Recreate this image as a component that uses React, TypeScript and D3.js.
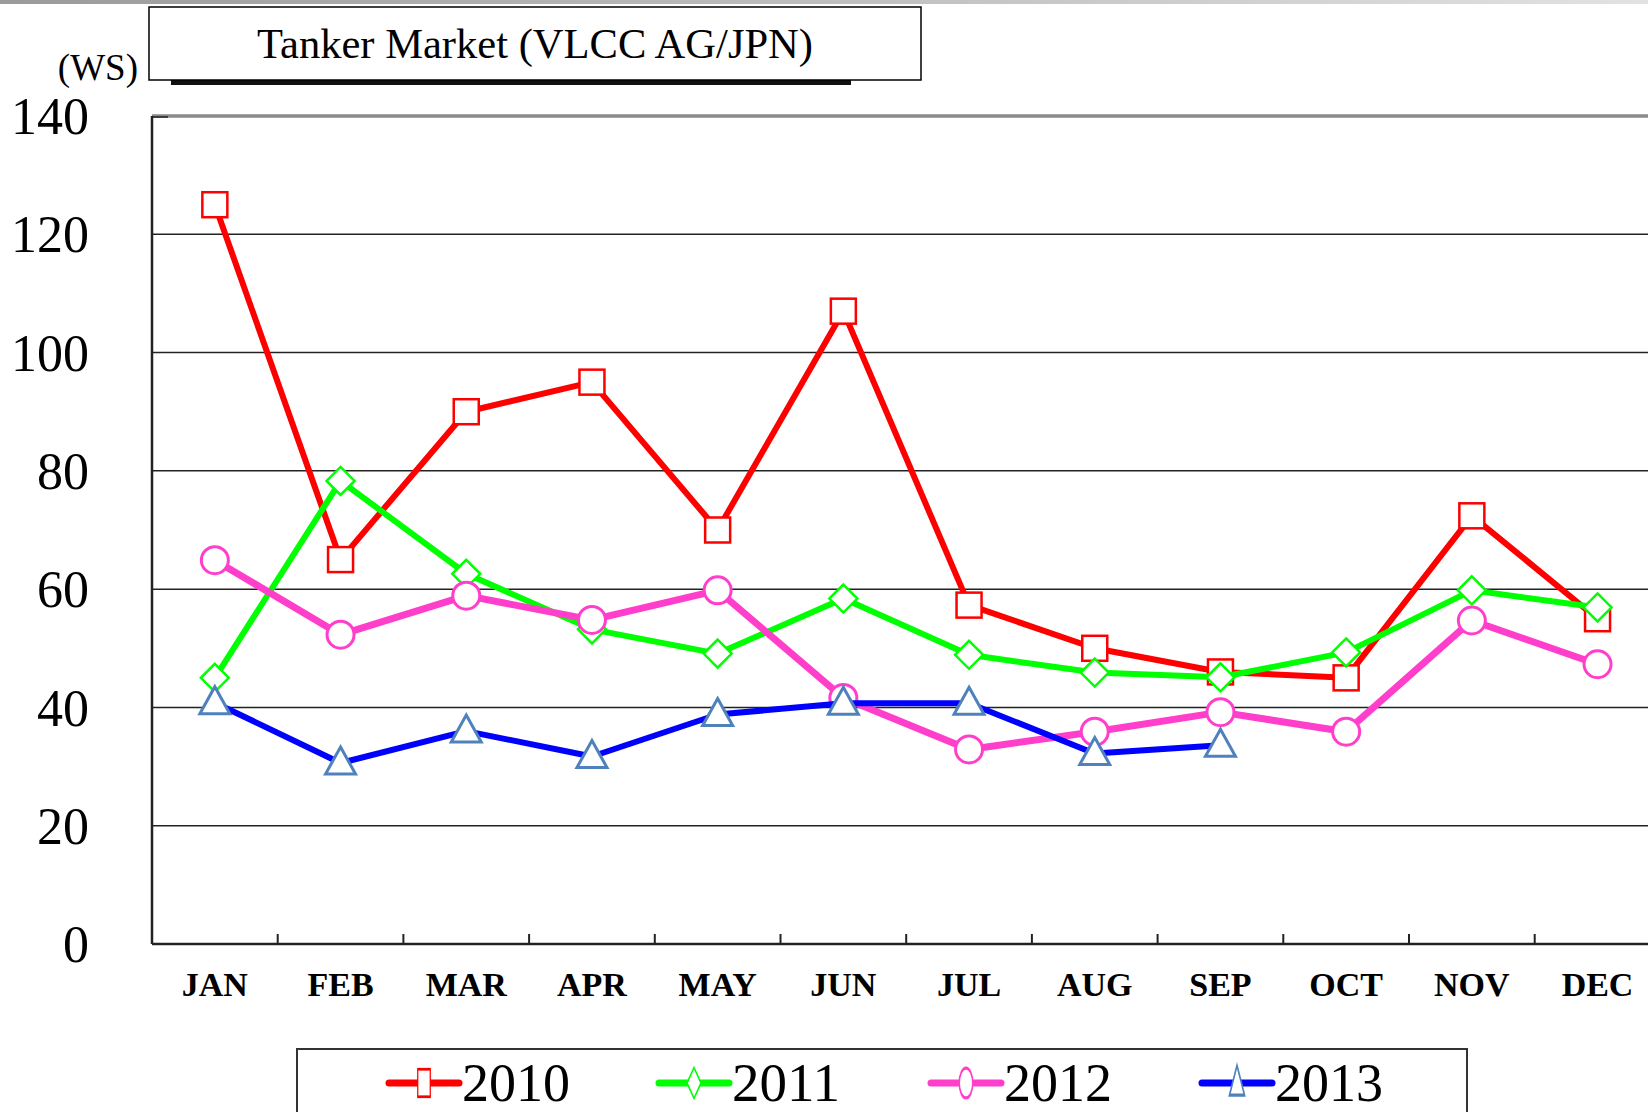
import React from 'react';
import * as d3 from 'd3';

const months = ['JAN', 'FEB', 'MAR', 'APR', 'MAY', 'JUN', 'JUL', 'AUG', 'SEP', 'OCT', 'NOV', 'DEC'];
const yTicks = [0, 20, 40, 60, 80, 100, 120, 140];

const values2010 = [125, 65, 90, 95, 70, 107, 57.3, 50, 46, 45, 72.4, 55];
const values2011 = [45, 78.3, 62.6, 53.2, 49.1, 58.4, 48.9, 45.9, 45.1, 49.3, 59.8, 56.9];
const values2012 = [64.9, 52.3, 58.9, 54.8, 59.8, 41.6, 32.9, 35.9, 39.2, 35.9, 54.7, 47.3];
const values2013 = [40.8, 30.6, 36, 31.7, 38.8, 40.7, 40.7, 32.2, 33.6];

const series = [
  {name: '2010', values: values2010, color: '#ff0000', marker: 'square', mstroke: '#ff0000', width: 6},
  {name: '2011', values: values2011, color: '#00ff00', marker: 'diamond', mstroke: '#00ff00', width: 6},
  {name: '2012', values: values2012, color: '#ff3fcc', marker: 'circle', mstroke: '#ff3fcc', width: 7},
  {name: '2013', values: values2013, color: '#0000ff', marker: 'triangle', mstroke: '#4f81bd', width: 6},
];

const W = 1648;
const H = 1112;

function Marker({kind, x, y, stroke}: {kind: string, x: number, y: number, stroke: string}) {
  const common = {fill: 'white', stroke: stroke, strokeWidth: 2.5};
  if (kind === 'square') return <rect x={x - 12.5} y={y - 12.5} width={25} height={25} {...common} />;
  if (kind === 'diamond') return <path d={`M${x},${y - 14}L${x + 14},${y}L${x},${y + 14}L${x - 14},${y}Z`} {...common} />;
  if (kind === 'circle') return <circle cx={x} cy={y} r={13.5} {...common} strokeWidth={3} />;
  return <path d={`M${x},${y - 16}L${x + 15},${y + 11}L${x - 15},${y + 11}Z`} {...common} strokeWidth={3} />;
}

export default function App() {
  const left = 152;
  const step = 125.7;
  const x = d3.scaleBand().domain(months).range([left, left + step * 12]);
  const y = d3.scaleLinear().domain([0, 140]).range([944, 116]);
  const cx = (i: number) => (x(months[i]) as number) + x.bandwidth() / 2;

  const line = d3.line<number>().x((d, i) => cx(i)).y(d => y(d));

  const legendX = [389, 659, 931, 1202];

  return (
    <svg width={W} height={H} style={{position: 'absolute', left: 0, top: 0, background: 'white'}}
      fontFamily="'Liberation Serif', 'Times New Roman', serif">
      <defs>
        <linearGradient id="topbar" x1="0" x2="1" y1="0" y2="0">
          <stop offset="0" stopColor="#9a9a9a" />
          <stop offset="1" stopColor="#e2e2e2" />
        </linearGradient>
      </defs>
      <rect x={0} y={0} width={W} height={4} fill="url(#topbar)" />

      {/* title box */}
      <rect x={171} y={79} width={680} height={6} fill="#111" />
      <rect x={149} y={7} width={772} height={73} fill="white" stroke="black" strokeWidth={1.5} />
      <text x={535} y={58} textAnchor="middle" fontSize={42} textLength={556} lengthAdjust="spacingAndGlyphs">Tanker Market (VLCC AG/JPN)</text>
      <text x={138} y={80} textAnchor="end" fontSize={37}>(WS)</text>

      {/* grid */}
      {yTicks.filter(t => t > 0 && t < 140).map(t => (
        <line key={t} x1={left} x2={W} y1={y(t)} y2={y(t)} stroke="#222" strokeWidth={1.5} />
      ))}
      <line x1={left} x2={W} y1={y(140)} y2={y(140)} stroke="#8a8a8a" strokeWidth={3.5} />
      <line x1={left} x2={left + 16} y1={y(140) + 1} y2={y(140) + 1} stroke="#222" strokeWidth={1.5} />
      {yTicks.map(t => (
        <text key={t} x={89} y={y(t)} dy="0.35em" textAnchor="end" fontSize={52}>{t}</text>
      ))}

      {/* axes */}
      <line x1={left} x2={left} y1={y(140)} y2={y(0)} stroke="#222" strokeWidth={2.5} />
      <line x1={left} x2={W} y1={y(0)} y2={y(0)} stroke="#222" strokeWidth={2.5} />
      {months.slice(1).map(m => (
        <line key={m} x1={x(m)} x2={x(m)} y1={y(0)} y2={y(0) - 10} stroke="#222" strokeWidth={2} />
      ))}
      {months.map((m, i) => (
        <text key={m} x={cx(i)} y={996} textAnchor="middle" fontSize={34} fontWeight="bold">{m}</text>
      ))}

      {/* series */}
      {series.map(s => (
        <g key={s.name}>
          <path d={line(s.values) || ''} fill="none" stroke={s.color} strokeWidth={s.width} strokeLinejoin="round" />
          {s.values.map((v, i) => (
            <Marker key={i} kind={s.marker} x={cx(i)} y={y(v)} stroke={s.mstroke} />
          ))}
        </g>
      ))}

      {/* legend */}
      <rect x={297} y={1049} width={1170} height={80} fill="white" stroke="#333" strokeWidth={2} />
      {series.map((s, i) => (
        <g key={s.name} transform={`translate(${legendX[i]},1083)`}>
          <line x1={0} x2={70} y1={0} y2={0} stroke={s.color} strokeWidth={7} strokeLinecap="round" />
          <g transform="translate(35,0) scale(0.5,1.1)">
            <Marker kind={s.marker} x={0} y={0} stroke={s.mstroke} />
          </g>
          <text x={73} y={18} fontSize={54} textLength={108} lengthAdjust="spacingAndGlyphs">{s.name}</text>
        </g>
      ))}
    </svg>
  );
}
